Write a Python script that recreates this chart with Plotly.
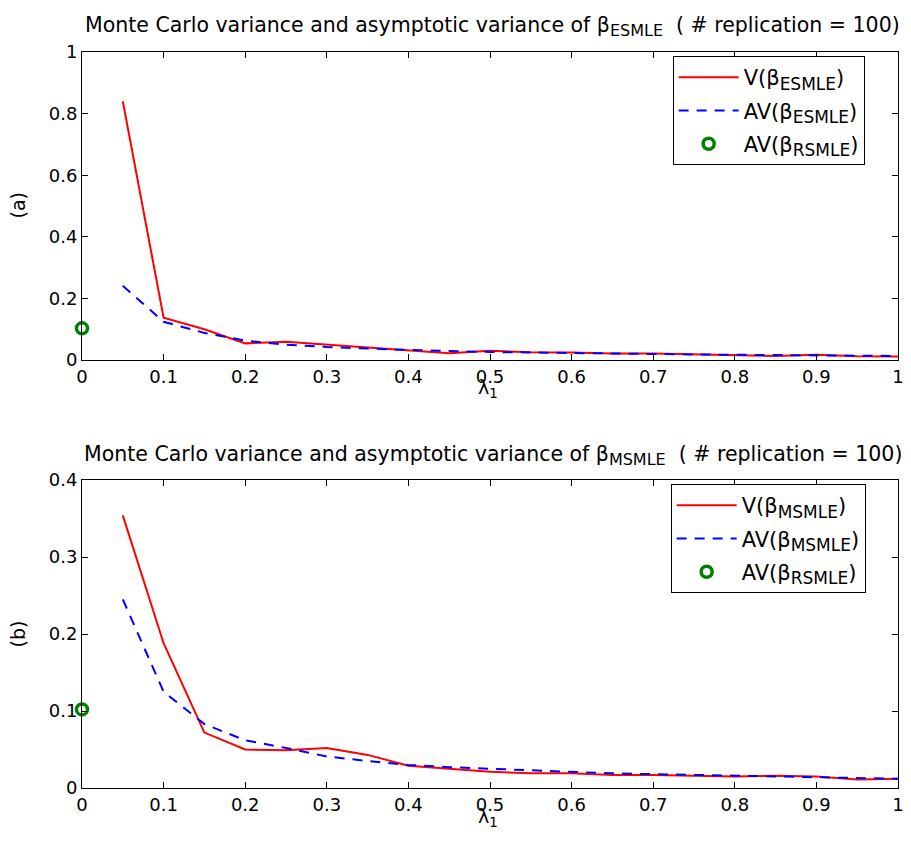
import plotly.graph_objects as go

lam = [0.05, 0.10, 0.15, 0.20, 0.25, 0.30, 0.35, 0.40, 0.45, 0.50,
       0.55, 0.60, 0.65, 0.70, 0.75, 0.80, 0.85, 0.90, 0.95, 1.00]

# panel (a): ESMLE
v_esmle = [0.840, 0.137, 0.100, 0.054, 0.059, 0.050, 0.040, 0.030, 0.022, 0.030,
           0.025, 0.024, 0.021, 0.021, 0.018, 0.017, 0.013, 0.017, 0.012, 0.011]
av_esmle = [0.241, 0.124, 0.088, 0.063, 0.050, 0.042, 0.037, 0.032, 0.029, 0.026,
            0.024, 0.022, 0.021, 0.020, 0.018, 0.017, 0.016, 0.015, 0.014, 0.013]

# panel (b): MSMLE
v_msmle = [0.354, 0.188, 0.072, 0.050, 0.049, 0.052, 0.043, 0.029, 0.025, 0.021,
           0.019, 0.019, 0.017, 0.017, 0.016, 0.015, 0.016, 0.015, 0.011, 0.012]
av_msmle = [0.245, 0.125, 0.083, 0.062, 0.052, 0.041, 0.035, 0.030, 0.027, 0.025,
            0.023, 0.021, 0.019, 0.018, 0.017, 0.016, 0.015, 0.014, 0.013, 0.012]

rsmle_x = [0]
rsmle_a = [0.103]
rsmle_b = [0.102]

xticks = [0, 0.1, 0.2, 0.3, 0.4, 0.5, 0.6, 0.7, 0.8, 0.9, 1]
xticklabels = ["0", "0.1", "0.2", "0.3", "0.4", "0.5", "0.6", "0.7", "0.8", "0.9", "1"]
yticks_a = [0, 0.2, 0.4, 0.6, 0.8, 1]
yticklabels_a = ["0", "0.2", "0.4", "0.6", "0.8", "1"]
yticks_b = [0, 0.1, 0.2, 0.3, 0.4]
yticklabels_b = ["0", "0.1", "0.2", "0.3", "0.4"]

FONT = "DejaVu Sans, Liberation Sans, Arial, sans-serif"
RED = "#ff0000"
BLUE = "#0000ff"
GREEN = "#008000"

fig = go.Figure()

def sub(s, px):
    return "<sub><span style='font-size:%dpx'>%s</span></sub>" % (px, s)

def add_panel(xa, ya, leg, v, av, rs, tag):
    fig.add_trace(go.Scatter(x=lam, y=v, mode="lines", xaxis=xa, yaxis=ya,
                             line=dict(color=RED, width=2), legend=leg,
                             legendgroup=leg + "v",
                             name="V(β" + sub(tag, 17) + ")"))
    fig.add_trace(go.Scatter(x=lam, y=av, mode="lines", xaxis=xa, yaxis=ya,
                             line=dict(color=BLUE, width=2, dash="10px,8px"), legend=leg,
                             legendgroup=leg + "av",
                             name="AV(β" + sub(tag, 17) + ")"))
    fig.add_trace(go.Scatter(x=rsmle_x, y=rs, mode="markers", xaxis=xa, yaxis=ya,
                             cliponaxis=False, legend=leg, legendgroup=leg + "rs",
                             marker=dict(symbol="circle-open", size=11, color=GREEN,
                                         line=dict(width=3.5, color=GREEN)),
                             name="AV(β" + sub("RSMLE", 17) + ")"))

add_panel("x", "y", "legend", v_esmle, av_esmle, rsmle_a, "ESMLE")
add_panel("x2", "y2", "legend2", v_msmle, av_msmle, rsmle_b, "MSMLE")

axis_common = dict(showline=True, linecolor="black", linewidth=1, mirror="ticks",
                   ticks="inside", ticklen=6, tickcolor="black", showgrid=False,
                   zeroline=False, tickfont=dict(family=FONT, size=18, color="black"))

top_dom = [(788 - 360) / 736, 1.0]
bot_dom = [0.0, (788 - 480) / 736]

leg_common = dict(xanchor="left", yanchor="top", bordercolor="black", borderwidth=1,
                  bgcolor="white", itemwidth=60, tracegroupgap=3,
                  font=dict(family=FONT, size=21, color="black"))

fig.update_layout(
    width=911, height=845,
    margin=dict(l=82, r=7, t=52, b=57),
    paper_bgcolor="white", plot_bgcolor="white",
    font=dict(family=FONT, size=18, color="black"),
    xaxis=dict(domain=[0, 1], anchor="y", range=[0, 1], tickvals=xticks,
               ticktext=xticklabels, **axis_common),
    yaxis=dict(domain=top_dom, anchor="x", range=[0, 1], tickvals=yticks_a,
               ticktext=yticklabels_a, **axis_common),
    xaxis2=dict(domain=[0, 1], anchor="y2", range=[0, 1], tickvals=xticks,
                ticktext=xticklabels, **axis_common),
    yaxis2=dict(domain=bot_dom, anchor="x2", range=[0, 0.4], tickvals=yticks_b,
                ticktext=yticklabels_b, **axis_common),
    legend=dict(x=(677 - 82) / 822, y=(788 - 56) / 736, **leg_common),
    legend2=dict(x=(675 - 82) / 822, y=(788 - 484) / 736, **leg_common),
    showlegend=True,
)

ann = [
    dict(text="Monte Carlo variance and asymptotic variance of β" + sub("ESMLE", 16) + "  ( # replication = 100)",
         x=496, y=26),
    dict(text="Monte Carlo variance and asymptotic variance of β" + sub("MSMLE", 16) + "  ( # replication = 100)",
         x=496, y=455),
]
for a in ann:
    fig.add_annotation(text=a["text"], xref="paper", yref="paper",
                       x=(a["x"] - 82) / 822, y=(788 - a["y"]) / 736,
                       showarrow=False, xanchor="center", yanchor="middle",
                       font=dict(family=FONT, size=20.5, color="black"))

for yy, lab in [(205, "(a)"), (634, "(b)")]:
    fig.add_annotation(text=lab, xref="paper", yref="paper",
                       x=(18 - 82) / 822, y=(788 - yy) / 736, textangle=-90,
                       showarrow=False, xanchor="center", yanchor="middle",
                       font=dict(family=FONT, size=19, color="black"))

for yy in [389, 818]:
    fig.add_annotation(text="λ<sub>1</sub>", xref="paper", yref="paper",
                       x=(491 - 82) / 822, y=(788 - yy) / 736,
                       showarrow=False, xanchor="center", yanchor="middle",
                       font=dict(family=FONT, size=19, color="black"))

fig.write_html("out.html")
